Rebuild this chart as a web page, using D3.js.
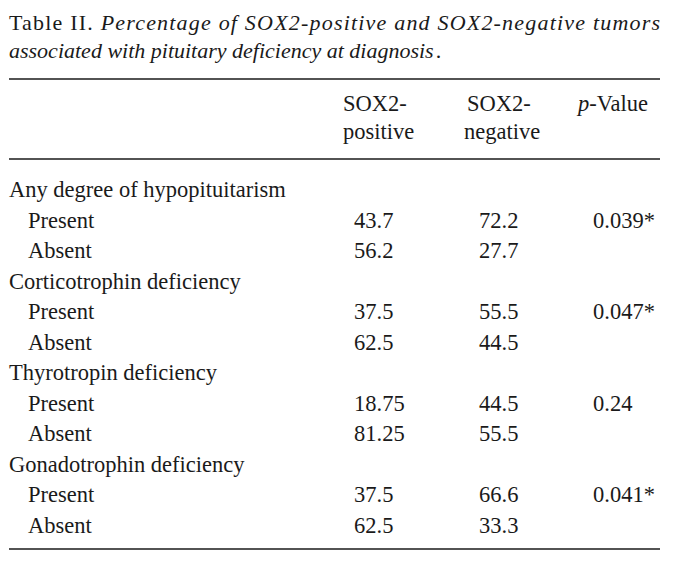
<!DOCTYPE html>
<html><head><meta charset="utf-8">
<script src="https://cdn.jsdelivr.net/npm/d3@7"></script>
<style>
html,body{margin:0;padding:0;background:#fff;}
svg{display:block;}
text{font-family:"Liberation Serif","Times New Roman",serif;fill:#1a1a1a;}
</style></head>
<body>
<script>
const titleLabel = "Table II.";
const titleLine1 = "Percentage of SOX2-positive and SOX2-negative tumors";
const titleLine2 = "associated with pituitary deficiency at diagnosis";
const columns = ["SOX2-positive", "SOX2-negative", "p-Value"];
const groups = ["Any degree of hypopituitarism", "Corticotrophin deficiency", "Thyrotropin deficiency", "Gonadotrophin deficiency"];
const statuses = ["Present", "Absent"];
const positiveValues = [43.7, 56.2, 37.5, 62.5, 18.75, 81.25, 37.5, 62.5];
const negativeValues = [72.2, 27.7, 55.5, 44.5, 44.5, 55.5, 66.6, 33.3];
const pValues = [0.039, 0.047, 0.24, 0.041];
const significant = [true, true, false, true];

const W = 678, H = 578, FS = 22.5, TFS = 22;
const svg = d3.select("body").append("svg").attr("width", W).attr("height", H);

// Title
const t1 = svg.append("text").attr("x", 9).attr("y", 30).attr("font-size", TFS)
  .attr("textLength", 651).attr("lengthAdjust", "spacing");
t1.append("tspan").text(titleLabel + " ");
t1.append("tspan").attr("font-style", "italic").text(titleLine1);
const t2 = svg.append("text").attr("x", 9).attr("y", 58).attr("font-size", TFS);
t2.append("tspan").attr("font-style", "italic").text(titleLine2);
t2.append("tspan").attr("dx", 2).text(".");

// rules
const rules = [79, 159, 549];
svg.selectAll("line.rule").data(rules).join("line").attr("class", "rule")
  .attr("x1", 9).attr("x2", 660).attr("y1", d => d).attr("y2", d => d)
  .attr("stroke", "#1a1a1a").attr("stroke-width", 1.6);

// header
const headX = d3.scaleOrdinal().domain(columns).range([343, 464, 578]);
const hdr = svg.append("g");
["SOX2-positive", "SOX2-negative"].forEach(c => {
  const [a, b] = c.split("-");
  hdr.append("text").attr("x", headX(c) + (c === "SOX2-negative" ? 3 : 0)).attr("y", 111).attr("font-size", FS).text(a + "-");
  hdr.append("text").attr("x", headX(c)).attr("y", 139).attr("font-size", FS).text(b);
});
const pv = hdr.append("text").attr("x", headX("p-Value")).attr("y", 111).attr("font-size", FS);
pv.append("tspan").attr("font-style", "italic").text("p");
pv.append("tspan").text("-Value");

// rows
const rows = [];
groups.forEach((g, gi) => {
  rows.push({type: "group", label: g});
  statuses.forEach((s, si) => {
    const k = gi * 2 + si;
    rows.push({type: "sub", label: s, pos: positiveValues[k], neg: negativeValues[k],
      p: si === 0 ? String(pValues[gi]) + (significant[gi] ? "*" : "") : ""});
  });
});
const y = d3.scalePoint().domain(d3.range(rows.length)).range([197, 533]);
const valX = d3.scaleOrdinal().domain(columns).range([354, 479, 593]);

const rg = svg.append("g").selectAll("g").data(rows).join("g")
  .attr("transform", (d, i) => `translate(0,${y(i)})`);
rg.append("text").attr("x", d => d.type === "group" ? 9 : 28).attr("font-size", FS).text(d => d.label);
const subs = rg.filter(d => d.type === "sub");
subs.append("text").attr("x", valX("SOX2-positive")).attr("font-size", FS).text(d => String(d.pos));
subs.append("text").attr("x", valX("SOX2-negative")).attr("font-size", FS).text(d => String(d.neg));
subs.append("text").attr("x", valX("p-Value")).attr("font-size", FS).text(d => d.p);
</script>
</body></html>
